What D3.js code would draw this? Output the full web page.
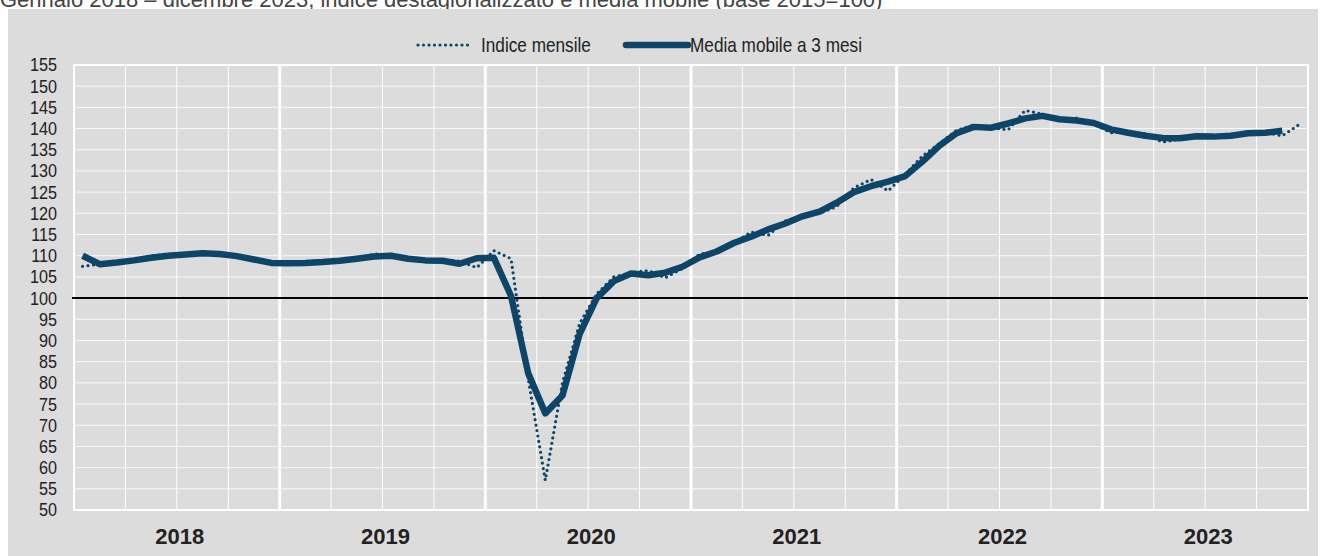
<!DOCTYPE html>
<meta charset="utf-8">
<script src="https://d3js.org/d3.v7.min.js"></script>
<title>Indice mensile e media mobile</title>
<style>
body { margin: 0; background: #fff; font-family: "Liberation Sans Narrow", "Arial Narrow", Arial, sans-serif; }
.grid line { stroke: #fff; }
.ylab { font-size: 18px; fill: #222; }
.xlab { font-size: 22px; font-weight: bold; fill: #222; font-family: "Liberation Sans", Arial, sans-serif; }
.leg { font-size: 20px; fill: #222; }
</style>
<body>
<svg id="chart" width="1326" height="556"></svg>
<script>

// anni sull'asse x
var years = ["2018", "2019", "2020", "2021", "2022", "2023"];

// indice mensile destagionalizzato, gen 2018 - dic 2023
var monthly = [
  107.5, 108.0, 108.3, 109.0, 110.0, 110.4, 110.4, 110.9, 110.5, 110.0, 109.2, 108.4,
  108.1, 108.3, 108.6, 108.8, 109.2, 110.4, 110.1, 109.2, 108.6, 109.0, 108.7, 107.2,
  111.2, 109.3, 81.0, 57.0, 80.0, 94.0, 101.0, 105.0, 106.0, 106.5, 104.8, 107.0,
  110.4, 111.0, 113.0, 115.6, 114.8, 118.2, 119.4, 120.0, 121.6, 126.0, 128.0, 125.3,
  129.2, 133.5, 136.5, 139.6, 140.8, 140.2, 139.7, 144.3, 143.4, 142.2, 142.5, 141.2,
  139.0, 139.2, 138.8, 136.8, 137.5, 138.3, 138.2, 138.3, 139.0, 139.1, 138.3, 141.0
];

// media mobile a 3 mesi, gen 2018 - nov 2023
var movingAvg = [
  110.0, 108.0, 108.4, 108.9, 109.5, 110.0, 110.3, 110.6, 110.4, 109.9, 109.1, 108.3,
  108.2, 108.3, 108.5, 108.8, 109.3, 109.8, 110.0, 109.3, 108.9, 108.8, 108.1, 109.4,
  109.5, 100.5, 82.3, 72.8, 77.0, 91.5, 100.0, 104.0, 105.8, 105.4, 106.0, 107.4,
  109.6, 111.0, 113.0, 114.5, 116.2, 117.6, 119.3, 120.4, 122.5, 125.0, 126.4, 127.5,
  128.8, 132.2, 136.0, 138.9, 140.4, 140.2, 141.2, 142.4, 143.0, 142.2, 141.9, 141.3,
  139.8, 139.0, 138.3, 137.8, 137.7, 138.2, 138.1, 138.3, 138.9, 139.0, 139.5
];

var yTicks = [50, 55, 60, 65, 70, 75, 80, 85, 90, 95, 100, 105, 110, 115, 120, 125, 130, 135, 140, 145, 150, 155];

var svg = d3.select("#chart"),
    margin = {top: 65, right: 18, bottom: 46, left: 74},
    width = +svg.attr("width"),
    height = +svg.attr("height");

var lineColor = "#0c4567";

// titolo (tagliato in alto, come nell'originale)
svg.append("text")
    .attr("x", 0)
    .attr("y", 7)
    .style("font-size", "22px")
    .style("fill", "#444")
    .text("Gennaio 2018 \u2013 dicembre 2023, indice destagionalizzato e media mobile (base 2015=100)");

// pannello grigio
svg.append("rect")
    .attr("x", 8).attr("y", 9)
    .attr("width", 1310).attr("height", height - 9)
    .attr("fill", "#dcdcdc");

var x = d3.scaleLinear()
    .domain([0, years.length * 12])
    .range([margin.left, width - margin.right]);

var y = d3.scaleLinear()
    .domain([50, 155])
    .range([height - margin.bottom, margin.top]);

var g = svg.append("g").attr("class", "grid");

// griglia orizzontale
g.selectAll(".hline")
    .data(yTicks.filter(function(d) { return d != 100; }))
  .enter().append("line")
    .attr("x1", x(0)).attr("x2", x(72))
    .attr("y1", function(d) { return y(d); })
    .attr("y2", function(d) { return y(d); })
    .style("stroke-width", 1)
    .style("opacity", 0.8);

// trimestri
g.selectAll(".qline")
    .data(d3.range(3, 72, 3).filter(function(d) { return d % 12 != 0; }))
  .enter().append("line")
    .attr("x1", function(d) { return x(d); })
    .attr("x2", function(d) { return x(d); })
    .attr("y1", y(155)).attr("y2", y(50))
    .style("stroke-width", 1);

// separatori anni
g.selectAll(".yline")
    .data(d3.range(12, 72, 12))
  .enter().append("line")
    .attr("x1", function(d) { return x(d); })
    .attr("x2", function(d) { return x(d); })
    .attr("y1", y(155)).attr("y2", y(50))
    .style("stroke-width", 3);

// cornice
svg.append("rect")
    .attr("x", x(0)).attr("y", y(155))
    .attr("width", x(72) - x(0)).attr("height", y(50) - y(155))
    .attr("fill", "none")
    .attr("stroke", "#fff")
    .attr("stroke-width", 2);

// linea 100
svg.append("line")
    .attr("x1", x(0) - 2).attr("x2", x(72))
    .attr("y1", y(100)).attr("y2", y(100))
    .attr("stroke", "#000")
    .attr("stroke-width", 2);

// etichette y
svg.selectAll(".ylab")
    .data(yTicks)
  .enter().append("text")
    .attr("class", "ylab")
    .attr("transform", function(d) { return "translate(57," + y(d) + ") scale(0.9,1)"; })
    .attr("dy", "0.36em")
    .attr("text-anchor", "end")
    .text(function(d) { return d; });

// etichette anni
svg.selectAll(".xlab")
    .data(years)
  .enter().append("text")
    .attr("class", "xlab")
    .attr("x", function(d, i) { return x(i * 12 + 6) + 3; })
    .attr("y", 544)
    .attr("text-anchor", "middle")
    .text(function(d) { return d; });

var line = d3.line()
    .x(function(d, i) { return x(i + 0.5); })
    .y(function(d) { return y(d); });

svg.append("path")
    .datum(monthly)
    .attr("d", line)
    .attr("fill", "none")
    .attr("stroke", lineColor)
    .attr("stroke-width", 3.2)
    .attr("stroke-linecap", "round")
    .attr("stroke-dasharray", "0,5.5");

svg.append("path")
    .datum(movingAvg)
    .attr("d", line)
    .attr("fill", "none")
    .attr("stroke", lineColor)
    .attr("stroke-width", 6.5)
    .attr("stroke-linejoin", "round");

// legenda
var leg = svg.append("g");
leg.append("line")
    .attr("x1", 418).attr("x2", 468)
    .attr("y1", 45).attr("y2", 45)
    .attr("stroke", lineColor)
    .attr("stroke-width", 3.2)
    .attr("stroke-linecap", "round")
    .attr("stroke-dasharray", "0,5.5");
leg.append("text")
    .attr("class", "leg")
    .attr("transform", "translate(481,45) scale(0.86,1)")
    .attr("dy", "0.35em")
    .text("Indice mensile");
leg.append("line")
    .attr("x1", 626).attr("x2", 688)
    .attr("y1", 45).attr("y2", 45)
    .attr("stroke", lineColor)
    .attr("stroke-width", 6.5)
    .attr("stroke-linecap", "round");
leg.append("text")
    .attr("class", "leg")
    .attr("transform", "translate(690,45) scale(0.86,1)")
    .attr("dy", "0.35em")
    .text("Media mobile a 3 mesi");

</script>
</body>
